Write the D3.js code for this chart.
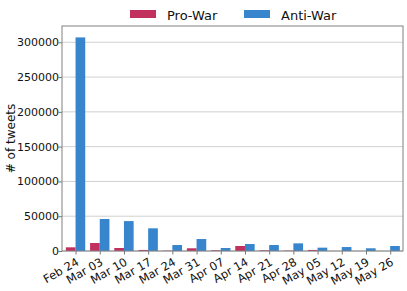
<!DOCTYPE html>
<html>
<head>
<meta charset="utf-8">
<script src="https://cdn.jsdelivr.net/npm/d3@7"></script>
<style>
  body { margin: 0; background: #fff; }
  text { font-family: "DejaVu Sans", sans-serif; fill: #111; }
</style>
</head>
<body>
<div id="chart"></div>
<script>
// data
var weeks = ["Feb 24", "Mar 03", "Mar 10", "Mar 17", "Mar 24", "Mar 31", "Apr 07",
    "Apr 14", "Apr 21", "Apr 28", "May 05", "May 12", "May 19", "May 26"];
var proWar = [5300, 11500, 4300, 1500, 500, 3900, 1000, 7200, 1000, 500, 1500, 0, 0, 0];
var antiWar = [307000, 46000, 43000, 32600, 8600, 17200, 4300, 10000, 8600, 11000, 4800, 5700, 3900, 7200];
var yTicks = [0, 50000, 100000, 150000, 200000, 250000, 300000];

var svgWidth = 407, svgHeight = 291;
var margin = { top: 26, right: 4, bottom: 40, left: 62 };
var chartWidth = svgWidth - margin.left - margin.right;
var chartHeight = svgHeight - margin.top - margin.bottom;

var svg = d3.select("#chart").append("svg")
    .attr("width", svgWidth)
    .attr("height", svgHeight);

var chartGroup = svg.append("g")
    .attr("transform", `translate(${margin.left}, ${margin.top})`);

// scales
var xScale = d3.scaleLinear()
    .domain([-0.56, weeks.length - 1 + 0.53])
    .range([0, chartWidth]);

var yScale = d3.scaleLinear()
    .domain([0, 323400])
    .range([chartHeight, 0]);

var barW = 0.4;

// gridlines
chartGroup.selectAll("line.grid")
    .data(yTicks)
    .enter()
    .append("line")
    .attr("class", "grid")
    .attr("x1", 0)
    .attr("x2", chartWidth)
    .attr("y1", d => yScale(d))
    .attr("y2", d => yScale(d))
    .attr("stroke", "#d0d0d0")
    .attr("stroke-width", 1);

// bars
chartGroup.selectAll("rect.pro")
    .data(proWar)
    .enter()
    .append("rect")
    .attr("class", "pro")
    .attr("x", (d, i) => xScale(i - barW))
    .attr("width", xScale(barW) - xScale(0))
    .attr("y", d => yScale(d))
    .attr("height", d => chartHeight - yScale(d))
    .attr("fill", "#c2305e");

chartGroup.selectAll("rect.anti")
    .data(antiWar)
    .enter()
    .append("rect")
    .attr("class", "anti")
    .attr("x", (d, i) => xScale(i))
    .attr("width", xScale(barW) - xScale(0))
    .attr("y", d => yScale(d))
    .attr("height", d => chartHeight - yScale(d))
    .attr("fill", "#3785cd");

// axes
var yAxis = d3.axisLeft(yScale).tickValues(yTicks).tickSize(3.5).tickPadding(-0.5).tickFormat(d3.format("d"));
var xAxis = d3.axisBottom(xScale).tickValues(d3.range(weeks.length)).tickSize(3.5).tickFormat(i => weeks[i]);

var yG = chartGroup.append("g").call(yAxis);
yG.select(".domain").remove();
yG.selectAll("line").attr("stroke", "#777");
yG.selectAll("text").style("font-size", "11px");

var xG = chartGroup.append("g")
    .attr("transform", `translate(0, ${chartHeight})`)
    .call(xAxis);
xG.select(".domain").remove();
xG.selectAll("line").attr("stroke", "#777");
xG.selectAll("text")
    .style("font-size", "11.5px")
    .attr("text-anchor", "end")
    .attr("x", 0)
    .attr("y", 8.4)
    .attr("dy", null)
    .attr("transform", "translate(-0.5, 6) rotate(-30)");

// frame
chartGroup.append("rect")
    .attr("width", chartWidth)
    .attr("height", chartHeight)
    .attr("fill", "none")
    .attr("stroke", "#808080")
    .attr("stroke-width", 1);

// y label
svg.append("text")
    .attr("transform", "rotate(-90)")
    .attr("x", -(margin.top + chartHeight / 2))
    .attr("y", 14.5)
    .attr("text-anchor", "middle")
    .style("font-size", "12px")
    .text("# of tweets");

// legend
var legend = [
    { name: "Pro-War", color: "#c2305e", x: 130 },
    { name: "Anti-War", color: "#3785cd", x: 244 }
];
var lg = svg.selectAll("g.legend")
    .data(legend)
    .enter()
    .append("g")
    .attr("class", "legend")
    .attr("transform", d => `translate(${d.x}, 10)`);
lg.append("rect")
    .attr("width", 26)
    .attr("height", 8)
    .attr("fill", d => d.color);
lg.append("text")
    .attr("x", 37)
    .attr("y", 9.5)
    .style("font-size", "13px")
    .text(d => d.name);
</script>
</body>
</html>
